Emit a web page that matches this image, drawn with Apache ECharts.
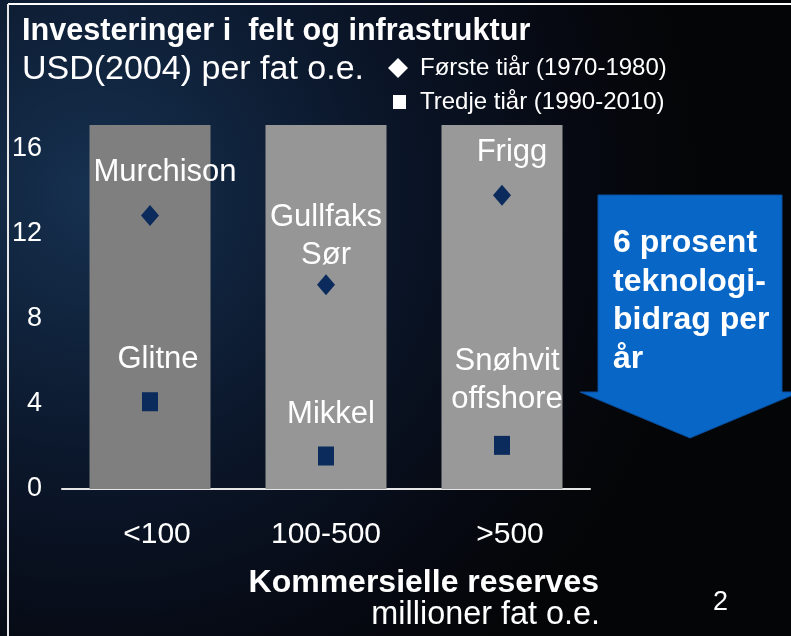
<!DOCTYPE html>
<html>
<head>
<meta charset="utf-8">
<script src="https://cdn.jsdelivr.net/npm/echarts@6/dist/echarts.min.js"></script>
<style>
  html, body { margin: 0; padding: 0; background: #050810; }
  #chart { width: 791px; height: 636px; }
</style>
</head>
<body>
<div id="chart"></div>
<script>
// ---- data ----
const categories = ['<100', '100-500', '>500'];
const firstDecadeName = 'Første tiår (1970-1980)';
const thirdDecadeName = 'Tredje tiår (1990-2010)';
const firstDecade = [12.85, 9.6, 13.8];
const thirdDecade = [4.1, 1.55, 2.05];
const firstFields = ['Murchison', 'Gullfaks\nSør', 'Frigg'];
const thirdFields = ['Glitne', 'Mikkel', 'Snøhvit\noffshore'];
const yTicks = [0, 4, 8, 12, 16];
const columnTop = 17.1;

// ---- styling / layout ----
const FONT = "'Liberation Sans', Arial, sans-serif";
const columnColors = ['#7f7f7f', '#969696', '#999999'];
const markerColor = '#0b2b5c';
const firstLabelShift = [[15, 0], [0, 14], [10, 0]];
const thirdLabelShift = [[8, 0], [5, 0], [5, -4]];
const catLabelPadLeft = [14, 0, 16];

const chart = echarts.init(document.getElementById('chart'), null, { renderer: 'canvas' });

const labelBase = {
  show: true,
  position: 'top',
  distance: 13.5,
  formatter: '{b}',
  color: '#ffffff',
  fontFamily: FONT,
  fontSize: 31,
  lineHeight: 38,
  align: 'center'
};

const catRich = {};
catLabelPadLeft.forEach((p, i) => {
  catRich['c' + i] = { color: '#fff', fontFamily: FONT, fontSize: 30, lineHeight: 30, padding: [0, 0, 0, p] };
});

const option = {
  backgroundColor: {
    type: 'radial', x: 0.12, y: 0.3, r: 0.95,
    colorStops: [
      { offset: 0, color: '#163150' },
      { offset: 0.45, color: '#0b172b' },
      { offset: 0.8, color: '#060912' },
      { offset: 1, color: '#040506' }
    ]
  },
  animation: false,
  title: [
    { text: 'Investeringer i  felt og infrastruktur', left: 22, top: 16, padding: 0,
      textStyle: { color: '#fff', fontFamily: FONT, fontWeight: 'bold', fontSize: 30.6, lineHeight: 31 } },
    { text: 'USD(2004) per fat o.e.', left: 22, top: 53, padding: 0,
      textStyle: { color: '#fff', fontFamily: FONT, fontWeight: 'normal', fontSize: 34, lineHeight: 34 } },
    { text: 'Kommersielle reserves', right: 192, top: 567, padding: 0,
      textStyle: { color: '#fff', fontFamily: FONT, fontWeight: 'bold', fontSize: 32, lineHeight: 32 } },
    { text: 'millioner fat o.e.', right: 191, top: 599, padding: 0,
      textStyle: { color: '#fff', fontFamily: FONT, fontWeight: 'normal', fontSize: 32.4, lineHeight: 32 } },
    { text: '2', left: 713, top: 589, padding: 0,
      textStyle: { color: '#fff', fontFamily: FONT, fontWeight: 'normal', fontSize: 27, lineHeight: 28 } }
  ],
  legend: [
    { data: [{ name: firstDecadeName, icon: 'diamond', itemStyle: { color: '#fff' } }],
      left: 388, top: 56, padding: 0, itemWidth: 20, itemHeight: 20, selectedMode: false,
      textStyle: { color: '#fff', fontFamily: FONT, fontSize: 24, lineHeight: 24, padding: [0, 0, 0, 7] } },
    { data: [{ name: thirdDecadeName, icon: 'rect', itemStyle: { color: '#fff' } }],
      left: 393, top: 90, padding: 0, itemWidth: 13, itemHeight: 14, selectedMode: false,
      textStyle: { color: '#fff', fontFamily: FONT, fontSize: 24, lineHeight: 24, padding: [0, 0, 0, 9] } }
  ],
  grid: { left: 62, right: 201, top: 125, bottom: 147, containLabel: false },
  xAxis: {
    type: 'category',
    data: categories,
    axisTick: { show: false },
    axisLine: { lineStyle: { color: '#e6e6e6', width: 2 } },
    axisLabel: {
      interval: 0,
      hideOverlap: false,
      color: '#fff', fontFamily: FONT, fontSize: 30, lineHeight: 30, margin: 31,
      formatter: (v, i) => '{c' + i + '|' + v + '}',
      rich: catRich
    },
    splitLine: { show: false }
  },
  yAxis: {
    type: 'value',
    min: 0,
    max: columnTop,
    interval: 4,
    axisLine: { show: false },
    axisTick: { show: false },
    splitLine: { show: false },
    axisLabel: {
      color: '#fff', fontFamily: FONT, fontSize: 27, margin: 20, showMaxLabel: false,
      formatter: v => (yTicks.indexOf(v) >= 0 ? String(v) : '')
    }
  },
  series: [
    {
      type: 'bar',
      name: 'columns',
      silent: true,
      barWidth: 121,
      z: 1,
      data: categories.map((c, i) => ({ value: columnTop, itemStyle: { color: columnColors[i] } }))
    },
    {
      type: 'scatter',
      name: firstDecadeName,
      symbol: 'diamond',
      symbolSize: [18, 21],
      z: 5,
      itemStyle: { color: markerColor, opacity: 1 },
      label: labelBase,
      data: firstDecade.map((v, i) => ({ value: v, name: firstFields[i], label: { offset: firstLabelShift[i] } }))
    },
    {
      type: 'scatter',
      name: thirdDecadeName,
      symbol: 'rect',
      symbolSize: [16, 19],
      z: 5,
      itemStyle: { color: markerColor, opacity: 1 },
      label: labelBase,
      data: thirdDecade.map((v, i) => ({ value: v, name: thirdFields[i], label: { offset: thirdLabelShift[i] } }))
    }
  ],
  graphic: [
    { type: 'line', shape: { x1: 8, y1: 4, x2: 791, y2: 4 }, style: { stroke: '#ffffff', lineWidth: 2 }, silent: true, z: 10 },
    { type: 'line', shape: { x1: 8, y1: 4, x2: 8, y2: 636 }, style: { stroke: '#e8e8e8', lineWidth: 2 }, silent: true, z: 10 },
    {
      type: 'polygon',
      shape: { points: [[598, 195], [782, 195], [782, 392], [800, 392], [690, 438], [580, 392], [598, 392]] },
      style: { fill: '#0866c6', stroke: '#0a4f9e', lineWidth: 1 },
      silent: true, z: 10
    },
    {
      type: 'text', left: 613, top: 224, silent: true, z: 11,
      style: {
        text: '6 prosent\nteknologi-\nbidrag per\når',
        fill: '#ffffff',
        font: 'bold 32px ' + FONT,
        lineHeight: 38.5
      }
    }
  ]
};

chart.setOption(option);
</script>
</body>
</html>
